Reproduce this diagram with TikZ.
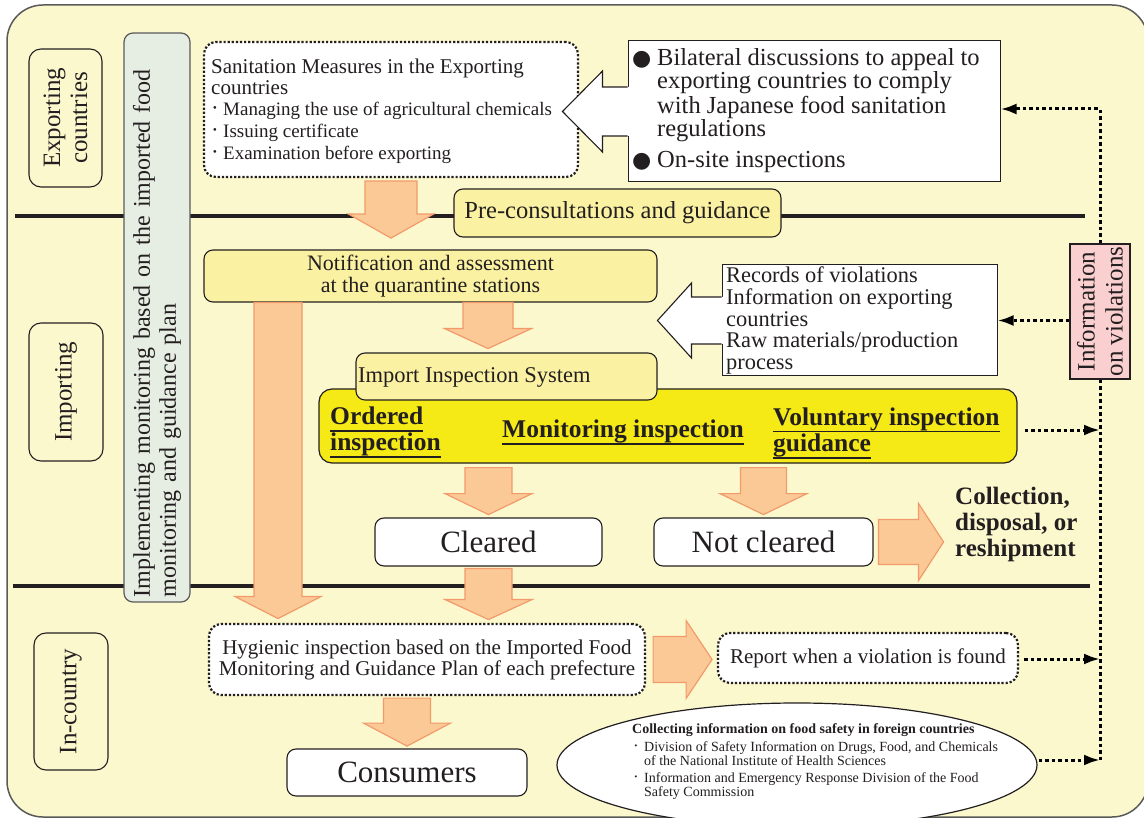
\documentclass[tikz,border=0pt]{standalone}
\usepackage{fontspec}
\setmainfont{Liberation Serif}
\newfontfamily\symf{DejaVu Sans}
\newsavebox\ulbox
\newcommand\uline[1]{\sbox\ulbox{#1}\rlap{\rule[-7.5pt]{\wd\ulbox}{1.8pt}}\usebox\ulbox}
\usetikzlibrary{arrows.meta,calc,shapes.geometric}
\definecolor{bgy}{HTML}{FCF8CE}
\definecolor{paley}{HTML}{FAF2A2}
\definecolor{brighty}{HTML}{F5E916}
\definecolor{orfill}{HTML}{FBC996}
\definecolor{orline}{HTML}{F29A6B}
\definecolor{txt}{HTML}{231F20}
\definecolor{tallbox}{HTML}{E6EDE2}
\definecolor{pinkbox}{HTML}{F9CFCF}
\definecolor{framec}{HTML}{5A5A5A}
\newcommand\fs[2]{\fontsize{#1}{#2}\selectfont}
\newcommand\bdot{{\fs{23}{20}·}}
\newcommand\sdot{{\fs{17}{14}·}}
\newcommand\bx[7]{\node[#1, minimum width={#5-#3}, minimum height={#6-#4}] (#2) at ({(#3+#5)/2},{(#4+#6)/2}) {#7};}
\newcommand\rbx[7]{\node[#1, rotate=90, minimum width={#6-#4}, minimum height={#5-#3}] (#2) at ({(#3+#5)/2},{(#4+#6)/2}) {#7};}
\newcommand\bdown[6]{\draw[blockarr] (#1) ++(-#3,#2) -- ++({2*#3},0) -- ++(0,#4) -- ++({#5-#3},0) -- ++(-#5,#6) -- ++(-#5,-#6) -- ++({#5-#3},0) -- cycle;}
\newcommand\bright[6]{\draw[blockarr] (#1) ++(#2,-#3) -- ++(#4,0) -- ++(0,{#3-#5}) -- ++(#6,#5) -- ++(-#6,#5) -- ++(0,{#3-#5}) -- ++(-#4,0) -- cycle;}
\newcommand\hollowleft[5]{%
\fill[white] (#1) ++(2,-#2) -- ++({-#5-2},0) -- ++(0,{#2-#3}) -- ++(-#4,#3) -- ++(#4,#3) -- ++(0,{#2-#3}) -- ++({#5+2},0) -- cycle;
\draw[hollow] (#1) ++(0,-#2) -- ++(-#5,0) -- ++(0,{#2-#3}) -- ++(-#4,#3) -- ++(#4,#3) -- ++(0,{#2-#3}) -- ++(#5,0);}
\begin{document}
\begin{tikzpicture}[x=1pt,y=-1pt,
 tx/.style={inner sep=0pt,text=txt,anchor=west},
 wbox/.style={draw=txt,fill=white,line width=1.1pt,rounded corners=9pt,inner sep=0pt,text=txt},
 sbox/.style={draw=txt,fill=white,line width=1pt,inner sep=0pt},
 dbox/.style={draw=txt,fill=white,line width=2.2pt,dash pattern=on 2.2pt off 1.9pt,rounded corners=12pt,inner sep=0pt,text=txt},
 lbox/.style={draw=txt,line width=1.1pt,rounded corners=12pt,inner sep=0pt,text=txt,align=center,font=\fs{25}{27}},
 pbox/.style={draw=txt,fill=paley,line width=1.1pt,rounded corners=9pt,inner sep=0pt,text=txt},
 ybox/.style={draw=txt,fill=brighty,line width=1.2pt,rounded corners=13pt,inner sep=0pt},
 blockarr/.style={fill=orfill,draw=orline,line width=1.2pt,line join=miter},
 hollow/.style={draw=txt,line width=1.1pt,line join=miter},
 dotl/.style={draw=black,line width=3pt,dash pattern=on 3.5pt off 3pt},
 dota/.style={dotl,-{Latex[length=16pt,width=11pt]}},
 sep/.style={draw=txt,line width=4pt}]
\fill[white] (0,0) rectangle (1144,818);
\useasboundingbox (0,0) rectangle (1144,818);
\draw[framec,line width=1.5pt,fill=bgy,rounded corners=36pt] (7,5) rectangle (1148,817);
% separators
\coordinate (s1a) at (15,216); \coordinate (s1b) at (1085,216);
\draw[sep] (s1a) -- (s1b);
\coordinate (s2a) at (13,586); \coordinate (s2b) at (1090,586);
\draw[sep] (s2a) -- (s2b);
% side labels
\rbx{lbox}{lexp}{29}{49}{102}{187}{Exporting\\countries}
\rbx{lbox}{limp}{29}{323}{103}{461}{Importing}
\rbx{lbox}{linc}{34}{633}{108}{770}{In-country}
\node[draw=framec,fill=tallbox,line width=1.2pt,rounded corners=9pt,rotate=90,text width=559pt,inner xsep=5pt,inner ysep=0pt,minimum height=66,align=left,font=\fs{24}{26},text=txt] (tall) at (157,317.5) {Implementing monitoring based on the imported food\\monitoring and guidance plan};
% exporting countries
\bx{dbox}{san}{204}{42}{578}{177}{}
\node[tx,align=left,font=\fs{21}{21}] (sant) at (211,77) {Sanitation Measures in the Exporting\\countries};
\node[tx,font=\fs{19}{22}] (sanb) at (211,133) {\begin{tabular}{@{}p{12pt}@{}l@{}}\bdot&Managing the use of agricultural chemicals\\\bdot&Issuing certificate\\\bdot&Examination before exporting\end{tabular}};
\bx{sbox}{bil}{628}{41}{1000}{182}{}
\hollowleft{bil.west}{24.5}{40.5}{40}{25}
\node[tx,font=\fs{24.5}{23}] (bilt) at (632,111) {\begin{tabular}{@{}p{25pt}@{}l@{}}
{\symf\fs{22}{23}●}&Bilateral discussions to appeal to\\
&exporting countries to comply\\
&with Japanese food sanitation\\
&regulations\\[7pt]
{\symf\fs{22}{23}●}&On-site inspections\end{tabular}};
\bx{pbox}{pre}{454}{189}{781}{237}{\fs{24.5}{24}Pre-consultations and guidance}
\bdown{san.south}{3}{26}{33}{42.5}{24}
% importing
\bx{pbox,align=center,font=\fs{22}{22}}{notif}{204}{250}{657}{302}{Notification and assessment\\at the quarantine stations}
\bx{sbox}{rec}{722}{265}{997}{376}{}
\hollowleft{rec.west}{23.5}{37.5}{34}{30}
\node[tx,align=left,font=\fs{22.4}{21.75}] (rect) at (726,320.5) {Records of violations\\Information on exporting\\countries\\Raw materials/production\\process};
\bx{ybox}{yel}{319}{389}{1017}{463}{}
\bx{pbox}{iis}{356}{353}{657}{400}{}
\node[tx,font=\fs{22.5}{22}] (iist) at (358,377) {Import Inspection System};
\node[tx,align=left,font=\bfseries\fs{25.5}{25}] (ord) at (330,432) {\uline{Ordered}\\\uline{inspection}};
\node[tx,font=\bfseries\fs{25.5}{25}] (mon) at (502,432) {\uline{Monitoring inspection}};
\node[tx,align=left,font=\bfseries\fs{25.5}{25}] (vol) at (773,433) {\uline{Voluntary inspection}\\\uline{guidance}};
\bdown{$(notif.south)+(57.5,0)$}{0}{25}{26}{43.5}{20}
\bdown{$(notif.south)+(-152.5,0)$}{0}{24}{294}{43}{22}
\bx{wbox}{clr}{375}{518}{602}{566}{\fs{31}{31}Cleared}
\bx{wbox}{nclr}{654}{518}{873}{566}{\fs{31}{31}Not cleared}
\bdown{yel.south -| clr.north}{4}{23.5}{26}{43.5}{21}
\bdown{yel.south -| nclr.north}{4}{23}{26}{43.5}{21}
\bright{nclr.east}{5}{22.5}{40}{38.5}{25}
\node[tx,align=left,font=\bfseries\fs{25}{26}] (coll) at (955,524) {Collection,\\disposal, or\\reshipment};
\bdown{clr.south}{2}{23.5}{31}{43.5}{20}
% in-country
\bx{dbox,align=center,font=\fs{21}{21}}{hyg}{209}{624}{645}{695}{Hygienic inspection based on the Imported Food\\Monitoring and Guidance Plan of each prefecture}
\bx{dbox,font=\fs{21}{20}}{rep}{718}{633}{1018}{683}{Report when a violation is found}
\bright{hyg.east}{7}{23}{33}{39}{26}
\bx{wbox}{cons}{287}{749}{527}{796}{\fs{31}{31}Consumers}
\bdown{hyg.south -| cons.north}{2}{23.5}{25}{43.5}{23}
\node[ellipse,draw=txt,fill=white,line width=1.2pt,minimum width=480,minimum height=124,inner sep=0pt] (ell) at (797,765) {};
\node[tx,font=\bfseries\fs{14}{14}] (ellt) at (632,730) {Collecting information on food safety in foreign countries};
\node[tx,font=\fs{14}{13.5}] (ellb) at (633,771) {\begin{tabular}{@{}p{11pt}@{}l@{}}\sdot&Division of Safety Information on Drugs, Food, and Chemicals\\&of the National Institute of Health Sciences\\[3pt]\sdot&Information and Emergency Response Division of the Food\\&Safety Commission\end{tabular}};
% information on violations
\rbx{draw=txt,fill=pinkbox,line width=1.1pt,inner sep=0pt,align=center,font=\fs{25}{28},text=txt}{pink}{1070}{244}{1130}{379}{Information\\on violations}
\coordinate (tr) at (1100,109);
\coordinate (vb) at (1100,760);
\draw[dota] (pink.east) -- (tr) -- (tr -| bil.east);
\draw[dotl] (pink.west) -- (vb);
\draw[dota] (pink.north |- rec.east) -- (rec.east);
\coordinate (ya) at ($(yel.east)+(7,4)$); \draw[dota] (ya) -- (ya -| vb);
\coordinate (ra) at ($(rep.east)+(5,1)$); \draw[dota] (ra) -- (ra -| vb);
\coordinate (ea) at ($(ell.east)+(1,-5)$); \draw[dota] (ea) -- (ea -| vb);
\end{tikzpicture}
\end{document}
